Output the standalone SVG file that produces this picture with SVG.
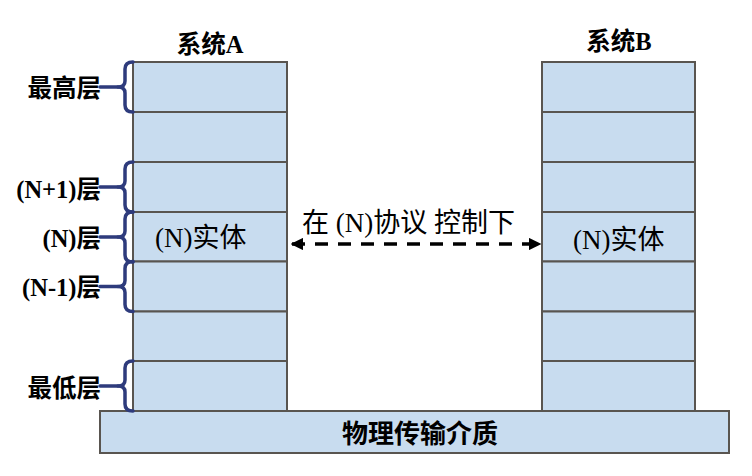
<svg xmlns="http://www.w3.org/2000/svg" width="752" height="476" viewBox="0 0 752 476">
<style>
.cell{fill:#C8DCEF;stroke:#595550;stroke-width:2}
.brace{fill:none;stroke:#2E3B7C;stroke-width:3.5;stroke-linecap:round;stroke-linejoin:round}
.lbl{font-family:"Liberation Serif","Noto Sans CJK SC",serif;font-weight:bold;font-size:24.5px;fill:#000}
.ent{font-family:"Liberation Serif","Noto Sans CJK SC",serif;font-size:27px;fill:#000}
.base{font-family:"Noto Sans CJK SC","Liberation Sans",sans-serif;font-weight:bold;font-size:26px;fill:#000}
</style>
<defs>
<marker id="ah" viewBox="0 0 10 10" refX="9" refY="5" markerWidth="3.6" markerHeight="3.6" orient="auto-start-reverse" markerUnits="strokeWidth">
<path d="M0,0 L10,5 L0,10 Z" fill="#000"/>
</marker>
<g id="brace">
<path class="brace" d="M133,0 Q125,0 125,7 L125,19 Q125,25 118,25 Q125,25 125,31 L125,43 Q125,50 133,50"/>
<line class="brace" x1="100" y1="25" x2="118" y2="25"/>
</g>
</defs>
<rect width="752" height="476" fill="#fff"/>
<g id="base">
<rect class="cell" x="100" y="411" width="629" height="42"/>
<text class="base" x="420" y="443" text-anchor="middle">物理传输介质</text>
</g>
<g id="systemA">
<text class="lbl" x="210" y="53" text-anchor="middle">系统A</text>
<rect class="cell" x="133" y="62" width="154" height="50"/>
<rect class="cell" x="133" y="112" width="154" height="50"/>
<rect class="cell" x="133" y="162" width="154" height="50"/>
<rect class="cell" x="133" y="212" width="154" height="49.5"/>
<rect class="cell" x="133" y="261.5" width="154" height="50"/>
<rect class="cell" x="133" y="311.5" width="154" height="49.5"/>
<rect class="cell" x="133" y="361" width="154" height="50"/>
<text class="ent" x="155" y="247">(N)实体</text>
</g>
<g id="systemB">
<text class="lbl" x="619" y="50" text-anchor="middle">系统B</text>
<rect class="cell" x="542" y="62" width="153" height="50"/>
<rect class="cell" x="542" y="112" width="153" height="50"/>
<rect class="cell" x="542" y="162" width="153" height="50"/>
<rect class="cell" x="542" y="212" width="153" height="49.5"/>
<rect class="cell" x="542" y="261.5" width="153" height="50"/>
<rect class="cell" x="542" y="311.5" width="153" height="49.5"/>
<rect class="cell" x="542" y="361" width="153" height="50"/>
<text class="ent" x="573" y="249">(N)实体</text>
</g>
<g id="layer-labels">
<use href="#brace" y="62"/>
<text class="lbl" x="101" y="97" text-anchor="end">最高层</text>
<use href="#brace" y="162"/>
<text class="lbl" x="101" y="198" text-anchor="end">(N+1)层</text>
<use href="#brace" y="212"/>
<text class="lbl" x="101" y="247" text-anchor="end">(N)层</text>
<use href="#brace" y="261.5"/>
<text class="lbl" x="101" y="296" text-anchor="end">(N-1)层</text>
<use href="#brace" y="361"/>
<text class="lbl" x="101" y="397" text-anchor="end">最低层</text>
</g>
<g id="connectors">
<line x1="292" y1="244" x2="540" y2="244" stroke="#000" stroke-width="3.5" stroke-dasharray="13 10" marker-start="url(#ah)" marker-end="url(#ah)"/>
<text class="ent" x="302" y="232">在 (N)协议 控制下</text>
</g>
</svg>
